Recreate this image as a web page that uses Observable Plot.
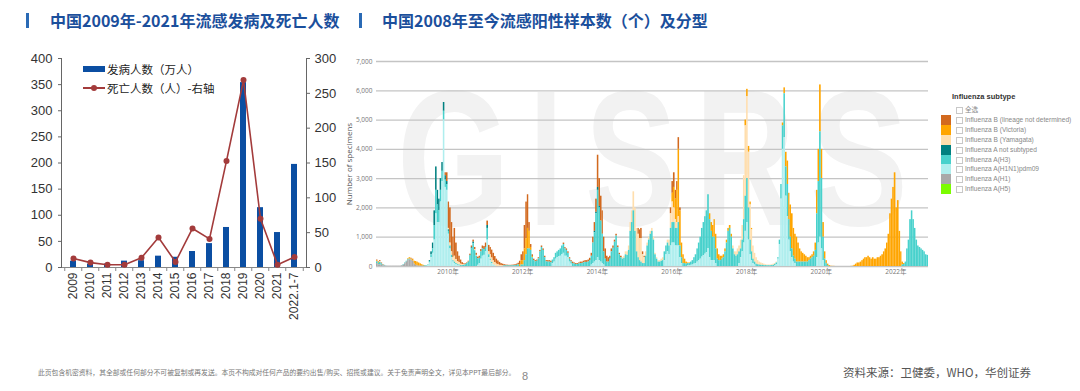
<!DOCTYPE html>
<html><head><meta charset="utf-8">
<script src="https://cdn.jsdelivr.net/npm/d3@7"></script>
<script src="https://cdn.jsdelivr.net/npm/@observablehq/plot@0.6"></script>
<style>
body{margin:0;width:1080px;height:391px;overflow:hidden;background:#fff;position:relative;font-family:"Liberation Sans",Arial,"Noto Sans CJK SC",sans-serif;}
.abs{position:absolute;white-space:nowrap;}
.title{position:absolute;top:9px;font-family:"Noto Sans CJK SC",sans-serif;font-weight:bold;font-size:16px;line-height:22px;color:#1b4f9c;white-space:nowrap;}
.tbar{position:absolute;top:13px;width:3px;height:15px;background:#2a6ab5;}
.lg{position:absolute;font-family:"Liberation Sans","Noto Sans CJK SC",sans-serif;white-space:nowrap;}
</style></head><body>
<div class="tbar" style="left:26px"></div>
<div class="title" style="left:50px">中国2009年-2021年流感发病及死亡人数</div>
<div class="tbar" style="left:359px"></div>
<div class="title" style="left:382px">中国2008年至今流感阳性样本数（个）及分型</div>

<div id="left" class="abs" style="left:0;top:40px"></div>
<div id="right" class="abs" style="left:330px;top:44px"></div>

<div class="abs" style="left:83px;top:66px;width:22px;height:6px;background:#0b4ea2"></div>
<div class="abs" style="left:107px;top:60px;font-size:11.5px;line-height:18px;color:#222;font-family:'Noto Sans CJK SC',sans-serif">发病人数（万人）</div>
<div class="abs" style="left:83px;top:87.3px;width:22px;height:1.6px;background:#a33b3b"></div>
<div class="abs" style="left:91px;top:85px;width:6px;height:6px;border-radius:50%;background:#a33b3b"></div>
<div class="abs" style="left:107px;top:79px;font-size:11.5px;line-height:18px;color:#222;font-family:'Noto Sans CJK SC',sans-serif">死亡人数（人）-右轴</div>

<div class="abs" style="left:348px;top:164px;transform:translate(-50%,-50%) rotate(-90deg);font-family:'Open Sans',sans-serif;font-size:8px;color:#555">Number of specimens</div>

<div id="legend"></div>

<div class="abs" style="left:38px;top:367px;font-size:6.8px;color:#777;font-family:'Noto Sans CJK SC',sans-serif">此页包含机密资料，其全部或任何部分不可被复制或再发送。本页不构成对任何产品的要约出售/购买、招揽或建议。关于免责声明全文，详见本PPT最后部分。</div>
<div class="abs" style="left:522px;top:370px;font-size:11px;color:#888;font-family:'Liberation Sans',sans-serif">8</div>
<div class="abs" style="left:843px;top:364px;font-size:11.5px;color:#555;font-family:'Noto Sans CJK SC',sans-serif">资料来源：卫健委，WHO，华创证券</div>

<script>
// ---------- Left chart data ----------
const years = ["2009","2010","2011","2012","2013","2014","2015","2016","2017","2018","2019","2020","2021","2022.1-7"];
const cases = [12.1, 6.5, 6.6, 12.2, 13.0, 21.7, 19.6, 30.6, 45.7, 76.6, 353.8, 114.5, 66.9, 197.3]; // 万人
const deaths = [13, 7, 4, 4, 14, 43, 8, 56, 41, 153, 269, 70, 4, 15]; // 人
const caseTicks = [0, 50, 100, 150, 200, 250, 300, 350, 400];
const deathTicks = [0, 50, 100, 150, 200, 250, 300];

// ---------- Right chart data (half-month bins, 24 per year, 2008-2022) ----------
const subtypes = ["Influenza B (lineage not determined)","Influenza B (Victoria)","Influenza B (Yamagata)","Influenza A not subtyped","Influenza A(H3)","Influenza A(H1N1)pdm09","Influenza A(H1)","Influenza A(H5)"];
const subtypeColors = ["#D2691E","#FFA500","#FFDEAD","#008080","#48D1CC","#AFEEEE","#A9A9A9","#7CFC00"];
const specimenTicks = [0,1000,2000,3000,4000,5000,6000,7000];
const yearTicks = [2010,2012,2014,2016,2018,2020,2022];

const A_H1 = [
0,0,100,60,60,40,20,20,10,10,10,10,10,10,10,10,10,10,20,40,90,150,200,230,
220,180,80,40,20,10,10,10,0,0,0,0,0,0,0,0,0,0,0,0,0,0,0,0,
0,0,0,0,0,0,0,0,0,0,0,0,0,0,0,0,0,0,0,0,0,0,0,0,
0,0,0,0,0,0,0,0,0,0,0,0,0,0,0,0,0,0,0,0,0,0,0,0,
0,0,0,0,0,0,0,0,0,0,0,0,0,0,0,0,0,0,0,0,0,0,0,0,
0,0,0,0,0,0,0,0,0,0,0,0,0,0,0,0,0,0,0,0,0,0,0,0,
0,0,0,0,0,0,0,0,0,0,0,0,0,0,0,0,0,0,0,0,0,0,0,0,
0,0,0,0,0,0,0,0,0,0,0,0,0,0,0,0,0,0,0,0,0,0,0,0,
0,0,0,0,0,0,0,0,0,0,0,0,0,0,0,0,0,0,0,0,0,0,0,0,
0,0,0,0,0,0,0,0,0,0,0,0,0,0,0,0,0,0,0,0,0,0,0,0,
0,0,0,0,0,0,0,0,0,0,0,0,0,0,0,0,0,0,0,0,0,0,0,0,
0,0,0,0,0,0,0,0,0,0,0,0,0,0,0,0,0,0,0,0,0,0,0,0,
0,0,0,0,0,0,0,0,0,0,0,0,0,0,0,0,0,0,0,0,0,0,0,0,
0,0,0,0,0,0,0,0,0,0,0,0,0,0,0,0,0,0,0,0,0,0,0,0,
0,0,0,0,0,0,0,0,0,0,0,0,0,0,0,0,0,0,0,0,0,0,0,0];

const A_PDM = [
0,0,0,0,0,0,0,0,0,0,0,0,0,0,0,0,0,0,0,0,0,0,0,0,
0,0,0,0,0,0,0,0,0,0,10,40,120,300,450,900,1800,1500,1500,2200,2900,5000,2700,2600,
1100,600,300,150,100,60,40,20,0,0,0,0,0,0,0,0,0,0,0,40,100,250,350,380,
500,900,300,200,100,60,30,0,0,0,0,0,0,0,0,0,0,0,0,0,0,0,0,0,
0,0,0,0,0,0,0,0,0,0,0,0,0,0,0,0,0,0,0,100,150,250,300,330,
350,400,450,350,350,300,150,80,0,0,0,0,0,0,0,0,0,0,0,0,50,100,150,200,
300,200,150,100,50,0,0,0,0,0,0,0,0,0,0,0,0,0,0,0,0,0,0,0,
0,0,0,0,0,0,0,0,0,0,0,0,0,0,0,0,0,0,0,200,400,500,400,700,
800,800,700,700,700,300,100,0,0,0,20,20,40,50,80,100,150,200,250,320,370,420,470,610,
300,200,200,200,100,0,0,0,0,0,0,0,0,0,0,0,0,0,0,100,300,500,800,1200,
1500,900,400,200,100,50,0,0,0,0,0,0,0,0,0,0,0,0,20,60,250,750,2300,4000,
4400,2400,1700,900,500,300,150,100,0,0,0,0,0,0,0,0,0,0,0,0,0,300,800,1000,
600,200,0,0,0,0,0,0,0,0,0,0,0,0,0,0,0,0,0,0,0,0,0,0,
0,0,0,0,0,0,0,0,0,0,0,0,0,0,0,0,0,0,0,0,0,0,0,0,
0,0,0,0,0,0,0,0,0,0,0,0,0,0,0,0,0,0,0,0,0,0,0,0];

const A_H3 = [
0,0,60,50,80,50,20,20,5,0,0,0,0,0,0,0,0,0,10,20,30,30,30,20,
0,0,0,0,0,0,0,0,10,20,20,20,50,100,150,500,800,600,400,400,350,300,250,200,
100,100,80,50,50,40,30,30,30,30,40,60,100,150,360,600,780,540,350,220,180,250,250,200,
150,400,100,50,40,0,0,0,0,0,0,0,25,20,22,20,20,22,25,30,40,55,0,50,
50,200,400,600,600,550,300,200,160,180,260,500,650,550,300,160,150,150,130,120,150,200,200,220,
250,300,300,250,200,150,100,80,100,85,70,70,85,100,100,125,140,140,155,200,300,700,1000,1600,
2300,1800,1400,1000,450,250,150,150,250,500,620,830,1040,640,400,300,250,280,400,380,550,1200,1500,1900,
1200,500,300,200,150,100,100,350,700,900,1100,1200,900,400,250,150,150,180,200,300,300,300,300,600,
700,700,600,600,800,400,200,100,100,80,80,80,110,150,220,300,450,600,750,980,1130,1280,1430,1840,
1300,1000,800,800,500,250,200,200,250,300,500,800,1200,1300,1000,600,400,350,400,400,300,400,800,1200,
1500,1100,500,300,150,100,80,60,50,40,40,30,30,25,25,25,30,40,50,60,50,150,500,800,
1500,1000,1100,700,500,300,200,150,150,150,150,150,150,150,150,150,200,250,300,350,550,1500,2100,3600,
2400,800,250,100,30,0,0,0,0,0,0,0,0,0,0,0,0,0,0,0,0,0,0,0,
0,0,0,0,0,0,0,0,0,0,0,0,0,0,0,0,0,0,0,0,0,0,0,0,
0,0,0,0,50,70,150,600,900,1600,1900,1600,1300,900,700,650,600,550,500,400,380,0,0,0];

const A_NS = [
0,0,0,0,0,0,0,0,0,0,0,0,0,0,0,0,0,0,0,0,0,0,0,0,
0,0,0,0,0,0,0,0,0,0,0,0,30,100,200,500,800,500,400,400,300,300,150,100,
50,0,0,0,0,0,0,0,0,0,0,0,0,0,20,40,50,0,0,0,0,0,0,0,
0,100,0,0,0,0,0,0,0,0,0,0,0,0,0,0,0,0,0,0,0,0,0,0,
0,0,0,0,0,0,0,0,0,0,0,0,0,0,0,0,0,0,0,0,0,0,0,0,
0,0,0,0,0,0,0,0,0,0,0,0,0,0,0,0,0,0,0,0,0,0,50,50,
100,50,0,0,0,0,0,0,0,0,0,0,0,0,0,0,0,0,0,0,0,0,0,0,
0,0,0,0,0,0,0,0,0,0,0,0,0,0,0,0,0,0,0,0,0,0,0,0,
0,0,0,0,0,0,0,0,0,0,0,0,0,0,0,0,0,0,0,0,0,0,0,0,
0,0,0,0,0,0,0,0,0,0,0,0,0,0,0,0,0,0,0,0,0,0,0,0,
0,0,0,0,0,0,0,0,0,0,0,0,0,0,0,0,0,0,0,0,0,0,0,0,
0,0,0,0,0,0,0,0,0,0,0,0,0,0,0,0,0,0,0,0,0,0,0,0,
0,0,0,0,0,0,0,0,0,0,0,0,0,0,0,0,0,0,0,0,0,0,0,0,
0,0,0,0,0,0,0,0,0,0,0,0,0,0,0,0,0,0,0,0,0,0,0,0,
0,0,0,0,0,0,0,0,0,0,0,0,0,0,0,0,0,0,0,0,0,0,0,0];

const B_YAM = [
0,0,0,0,30,0,0,0,0,0,0,0,0,0,0,0,0,0,0,0,0,0,0,0,
0,0,0,0,0,0,0,0,0,0,0,0,0,0,0,0,0,0,0,0,0,0,0,0,
50,100,120,100,200,140,100,80,50,30,20,0,0,0,0,0,0,30,30,0,0,0,0,0,
0,0,100,150,150,130,100,80,60,40,30,20,0,0,0,0,0,0,0,0,0,0,0,0,
0,0,0,0,0,0,0,0,0,0,0,0,0,0,0,0,0,0,0,0,0,0,0,0,
0,0,0,0,0,0,0,0,0,0,0,0,0,0,0,0,0,0,0,0,0,0,0,0,
0,0,0,0,0,0,0,0,0,0,0,0,0,0,0,0,50,70,100,120,150,300,400,650,
800,800,800,750,800,300,200,150,100,100,100,100,100,50,50,50,50,70,100,0,0,100,200,500,
700,500,300,200,200,0,0,0,0,0,0,0,0,0,0,0,0,0,0,0,0,0,0,0,
0,0,0,0,0,0,0,0,0,0,0,0,0,0,0,100,100,150,200,200,300,500,1500,2400,
2800,1900,1200,750,450,300,220,140,100,80,60,50,30,25,25,25,30,40,30,30,0,0,0,0,
0,0,0,0,0,0,0,0,0,0,0,0,0,0,0,0,0,0,0,0,0,0,0,0,
0,0,0,0,0,0,0,0,0,0,0,0,0,0,0,0,0,0,0,0,0,0,0,0,
0,0,0,0,0,0,0,0,0,0,0,0,0,0,0,0,0,0,0,0,0,0,0,0,
0,0,0,0,0,0,0,0,0,0,0,0,0,0,0,0,0,0,0,0,0,0,0,0];

const B_VIC = [
0,0,30,30,0,0,0,0,0,0,0,0,0,0,0,0,0,0,0,0,0,0,30,50,
40,60,100,130,130,110,80,50,30,10,0,0,0,0,0,0,0,0,0,0,0,0,0,0,
0,0,0,0,0,0,0,0,0,0,0,0,0,0,0,0,0,0,0,0,0,0,0,0,
0,0,0,0,0,0,0,0,0,0,0,0,0,0,0,0,0,0,0,0,0,0,60,150,
150,400,550,700,600,100,40,0,0,0,0,0,0,0,0,0,0,0,0,0,0,0,0,0,
0,0,0,0,0,0,0,0,0,0,0,0,0,0,0,0,0,0,0,0,0,0,0,0,
0,0,0,0,0,0,0,0,0,0,0,0,0,0,0,0,0,0,0,0,0,0,0,0,
0,0,0,0,0,0,0,0,0,0,0,0,0,0,0,0,0,0,0,0,0,0,0,0,
300,700,700,1100,2300,1200,500,300,150,70,20,20,0,0,0,0,0,0,0,0,0,0,0,0,
200,300,400,600,500,350,200,150,100,100,100,100,100,100,100,0,0,0,0,0,0,0,0,200,
250,200,100,50,0,0,0,0,0,0,0,0,0,0,0,0,0,0,0,0,0,0,0,100,
200,500,800,900,1100,1200,950,850,850,650,450,350,300,250,200,150,100,100,100,150,250,800,1100,1600,
1000,500,250,100,50,30,10,5,5,0,0,0,0,0,0,0,0,0,0,5,10,40,80,120,
120,150,200,250,300,300,350,300,250,300,250,250,300,300,350,400,500,600,800,1100,1800,2300,2700,3200,
2000,2250,1200,500,100,30,0,0,0,0,0,0,0,0,0,0,0,0,0,0,0,0,0,0];

const B_ND = [
0,0,30,20,30,30,20,0,0,0,0,0,0,0,0,0,0,0,0,0,0,0,0,0,
20,10,0,0,0,0,0,0,0,0,0,0,0,0,0,0,0,0,0,0,0,0,100,300,
900,1200,1000,700,950,560,330,220,140,70,30,30,20,30,40,60,70,80,70,60,70,80,100,100,
150,150,220,250,270,260,210,170,130,100,70,60,40,30,23,20,20,23,25,30,40,55,120,200,
300,800,1250,1150,300,100,60,50,40,40,40,50,50,50,50,40,50,50,50,0,0,0,0,0,
0,0,50,50,50,50,50,40,50,35,30,30,35,50,50,55,60,60,65,80,100,200,300,450,
1100,950,850,800,500,350,200,150,100,100,80,70,60,60,50,50,0,0,0,0,0,0,0,0,
0,0,200,300,350,100,50,0,0,0,0,0,0,0,0,0,0,0,0,0,0,0,0,200,
400,500,300,300,400,100,0,0,0,0,0,0,0,0,0,0,0,0,0,0,0,0,0,0,
0,0,0,0,0,0,0,0,0,0,0,0,0,0,0,0,0,0,0,0,0,0,0,0,
0,0,0,0,0,0,0,0,0,0,0,0,0,0,0,0,0,0,0,0,0,0,0,0,
0,0,0,0,0,0,0,0,0,0,0,0,0,0,0,0,0,0,0,0,0,0,0,0,
0,0,0,0,0,0,0,0,0,0,0,0,0,0,0,0,0,0,0,0,0,0,0,0,
0,0,0,0,0,0,0,0,0,0,0,0,0,0,0,0,0,0,0,0,0,0,0,0,
0,0,0,0,0,0,0,0,0,0,0,0,0,0,0,0,0,0,0,0,0,0,0,0];

// ---------- build tables ----------
const leftRows = years.map((y, i) => ({year: y, cases: cases[i], deaths: deaths[i]}));
const k = 400 / 300; // right axis -> left scale

function binDate(i) {
  const y = 2008 + Math.floor(i / 24), b = i % 24;
  return new Date(Date.UTC(y, Math.floor(b / 2), b % 2 ? 16 : 1));
}
const xStart = new Date(Date.UTC(2008, 1, 1));
const xEnd = new Date(Date.UTC(2022, 10, 16));
const seriesBySubtype = [
  [subtypes[0], B_ND], [subtypes[1], B_VIC], [subtypes[2], B_YAM], [subtypes[3], A_NS],
  [subtypes[4], A_H3], [subtypes[5], A_PDM], [subtypes[6], A_H1]
];
const specRows = [];
for (const [name, arr] of seriesBySubtype) {
  arr.forEach((v, i) => {
    const d = binDate(i), e = binDate(i + 1);
    if (v > 0 && d >= xStart && e <= xEnd) specRows.push({date: d, end: e, subtype: name, value: v});
  });
}
const stackOrder = subtypes.slice().reverse();

// ---------- left chart ----------
const red = "#a33b3b";
const leftPlot = Plot.plot({
  width: 345, height: 290,
  marginLeft: 61, marginRight: 39, marginTop: 18, marginBottom: 63,
  style: {fontFamily: "'Liberation Sans', Arial, sans-serif", color: "#333", background: "transparent"},
  x: {domain: years, paddingInner: 0.66, paddingOuter: 0.33},
  y: {domain: [0, 400]},
  marks: [
    Plot.barY(leftRows, {x: "year", y: "cases", fill: "#0b4ea2"}),
    Plot.ruleY([0], {stroke: "#888"}),
    Plot.ruleX(years, {x: d => d, dx: -8.75, insetTop: 209, insetBottom: -4, stroke: "#888"}),
    Plot.ruleX(years.slice(-1), {x: d => d, dx: 8.75, insetTop: 209, insetBottom: -4, stroke: "#888"}),
    Plot.line(leftRows, {x: "year", y: d => d.deaths * k, stroke: red, strokeWidth: 1.6}),
    Plot.dot(leftRows, {x: "year", y: d => d.deaths * k, r: 3, fill: red, stroke: "none"}),
    Plot.axisY(caseTicks, {anchor: "left", tickSize: 3, tickPadding: 6, fontSize: 13, label: null, stroke: "#666"}),
    Plot.axisY(deathTicks.map(v => v * k), {anchor: "right", tickSize: 3, tickPadding: 5, fontSize: 13, label: null, tickFormat: v => Math.round(v / k), stroke: "#666"}),
    Plot.axisX({tickRotate: -90, tickSize: 0, tickPadding: 5, fontSize: 12, label: null}),
    Plot.frame({anchor: "left", stroke: "#666"}),
    Plot.frame({anchor: "right", stroke: "#666"})
  ]
});
document.getElementById("left").appendChild(leftPlot);

// ---------- right chart ----------
const rightPlot = Plot.plot({
  width: 610, height: 236,
  marginLeft: 46, marginRight: 12, marginTop: 17, marginBottom: 14,
  style: {fontFamily: "'Open Sans', 'Noto Sans', 'Noto Sans CJK SC', sans-serif", color: "#777", background: "transparent"},
  x: {type: "utc", domain: [xStart, xEnd]},
  y: {domain: [0, 7000]},
  color: {domain: subtypes, range: subtypeColors},
  marks: [
    Plot.gridY(specimenTicks, {stroke: "#c4c4c4", strokeOpacity: 1, strokeWidth: 1.3}),
    Plot.rectY(specRows, {x1: "date", x2: "end", y: "value", fill: "subtype", order: stackOrder}),
    Plot.axisY(specimenTicks, {tickSize: 0, tickPadding: 4, fontSize: 6.5, tickFormat: d3.format(","), label: null}),
    Plot.axisX(yearTicks.map(y => new Date(Date.UTC(y, 0, 1))), {tickSize: 0, tickPadding: 3, fontSize: 6.5, tickFormat: d => d.getUTCFullYear() + "年", label: null})
  ]
});
document.getElementById("right").appendChild(rightPlot);

// watermark letters (decoration behind the bars); each letter squeezed to its width
const wm = d3.select(rightPlot).insert("g", "g").attr("aria-label", "watermark");
[["G", 67, 113], ["I", 200, 32], ["S", 255, 92], ["R", 365, 100], ["S", 480, 98]].forEach(([ch, x, w]) => {
  const t = wm.append("text").attr("x", 0).attr("y", 0).attr("text-anchor", "start")
    .attr("font-size", 194).attr("font-weight", "bold")
    .attr("font-family", "'Liberation Sans', Arial, sans-serif")
    .attr("fill", "#f2f2f2").text(ch);
  const len = t.node().getComputedTextLength() || w;
  t.attr("transform", `translate(${x},181) scale(${w / len},1)`);
});

// ---------- legend ----------
const lg = d3.select("#legend");
lg.append("div").attr("class", "lg").style("left", "952px").style("top", "92px")
  .style("font-size", "7.5px").style("font-weight", "bold").style("color", "#333").text("Influenza subtype");
const legendRows = [{label: "全选", color: null}].concat(subtypes.map((s, i) => ({label: s, color: subtypeColors[i]})));
legendRows.forEach((r, i) => {
  const cy = 110 + i * 9.9;
  if (r.color) lg.append("div").attr("class", "lg").style("left", "941px").style("top", (cy - 5) + "px")
    .style("width", "10px").style("height", "10px").style("background", r.color);
  lg.append("div").attr("class", "lg").style("left", "956px").style("top", (cy - 3) + "px")
    .style("width", "5px").style("height", "5px").style("border", "0.7px solid #c8c8c8").style("background", "#fff");
  lg.append("div").attr("class", "lg").style("left", "965px").style("top", (cy - 5) + "px")
    .style("font-size", "6.6px").style("line-height", "10px").style("color", "#888").text(r.label);
});
</script>
</body></html>
